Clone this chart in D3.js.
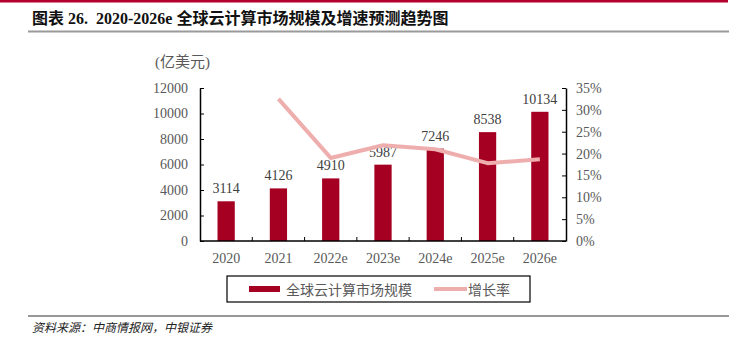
<!DOCTYPE html>
<html><head><meta charset="utf-8">
<script src="https://cdn.jsdelivr.net/npm/d3@7"></script>
<style>
html,body{margin:0;padding:0;background:#fff;}
svg{display:block;}
</style></head>
<body>
<script>
const categories = ["2020","2021","2022e","2023e","2024e","2025e","2026e"];
const marketSize = [3114,4126,4910,5987,7246,8538,10134];
const growthRate = [null,32.5,19.0,21.9,21.0,17.8,18.7];
const leftTicks = [0,2000,4000,6000,8000,10000,12000];
const rightTicks = [0,5,10,15,20,25,30,35];

const W=731,H=338;
const svg=d3.select("body").append("svg").attr("width",W).attr("height",H);
const serif="'Times New Roman','Liberation Serif',serif";
const cjk="'Noto Sans CJK SC',sans-serif";
const gray="#595959";

// header
svg.append("rect").attr("x",0).attr("y",0).attr("width",728).attr("height",2.5).attr("fill","#b5002f");
svg.append("text").attr("x",32).attr("y",24).attr("font-family",serif+","+cjk)
  .attr("font-size",16).attr("font-weight","bold").attr("fill","#111")
  .style("white-space","pre")
  .text("图表 26.  2020-2026e 全球云计算市场规模及增速预测趋势图");
svg.append("rect").attr("x",28).attr("y",30.5).attr("width",701).attr("height",2).attr("fill","#9a9a9a");

// footer
svg.append("rect").attr("x",28).attr("y",315.5).attr("width",701).attr("height",1).attr("fill","#333");
svg.append("text").attr("x",32).attr("y",332).attr("font-family",cjk).attr("font-size",12)
  .attr("font-style","italic").attr("fill","#222").text("资料来源：中商情报网，中银证券");

// scales
const x=d3.scaleBand().domain(categories).range([200,566]).paddingInner(0.67).paddingOuter(0.335);
const yL=d3.scaleLinear().domain([0,12000]).range([241,88]);
const yR=d3.scaleLinear().domain([0,35]).range([241,88]);

// unit label
svg.append("text").attr("x",155).attr("y",67).attr("font-family",serif+","+cjk).attr("font-size",15)
  .attr("fill",gray).text("(亿美元)");

// bars
svg.selectAll("rect.bar").data(marketSize).enter().append("rect").attr("class","bar")
  .attr("x",(d,i)=>x(categories[i])).attr("width",x.bandwidth())
  .attr("y",d=>yL(d)).attr("height",d=>yL(0)-yL(d)).attr("fill","#a50021");
svg.selectAll("text.val").data(marketSize).enter().append("text").attr("class","val")
  .attr("x",(d,i)=>x(categories[i])+x.bandwidth()/2).attr("y",d=>yL(d)-8)
  .attr("text-anchor","middle").attr("font-family",serif).attr("font-size",14).attr("fill","#404040")
  .text(d=>d);

// line
const pts=growthRate.map((v,i)=>({c:categories[i],v})).filter(d=>d.v!=null);
svg.append("path").datum(pts).attr("fill","none").attr("stroke","#eeaeae").attr("stroke-width",4)
  .attr("stroke-linejoin","round")
  .attr("d",d3.line().x(d=>x(d.c)+x.bandwidth()/2).y(d=>yR(d.v)));

// axes
const axL=svg.append("g").attr("transform","translate(200,0)")
  .call(d3.axisLeft(yL).tickValues(leftTicks).tickFormat(d3.format("d")).tickSize(-4).tickPadding(14).tickSizeOuter(0));
const axR=svg.append("g").attr("transform","translate(566,0)")
  .call(d3.axisRight(yR).tickValues(rightTicks).tickSize(-4).tickPadding(14).tickFormat(d=>d+"%").tickSizeOuter(0));
const axB=svg.append("g").attr("transform","translate(0,241)")
  .call(d3.axisBottom(x).tickSize(0).tickPadding(12).tickSizeOuter(0));
// bottom inward ticks at band boundaries
const step=x.step();
d3.range(1,categories.length).forEach(i=>{
  svg.append("line").attr("x1",200+i*step).attr("x2",200+i*step).attr("y1",241).attr("y2",237).attr("stroke","#000");
});
[axL,axR,axB].forEach(a=>{
  a.select(".domain").attr("stroke","#000").attr("stroke-width",1.5);
  a.selectAll(".tick line").attr("stroke","#000");
  a.selectAll("text").attr("font-family",serif).attr("font-size",14).attr("fill",gray);
});
axB.select(".domain").attr("d","M200,0H566");
axR.selectAll("text").attr("x",10);
axL.selectAll("text").attr("x",-12);

// legend
const lg=svg.append("g");
lg.append("rect").attr("x",227).attr("y",276).attr("width",303).attr("height",26).attr("fill","#fff").attr("stroke","#000").attr("stroke-width",1.2);
lg.append("rect").attr("x",249).attr("y",286).attr("width",31).attr("height",6).attr("fill","#a50021");
lg.append("text").attr("x",286).attr("y",294.5).attr("font-family",cjk).attr("font-size",14).attr("fill",gray).text("全球云计算市场规模");
lg.append("line").attr("x1",434).attr("x2",467).attr("y1",289).attr("y2",289).attr("stroke","#eeaeae").attr("stroke-width",4);
lg.append("text").attr("x",468).attr("y",294.5).attr("font-family",cjk).attr("font-size",14).attr("fill",gray).text("增长率");
</script>
</body></html>
